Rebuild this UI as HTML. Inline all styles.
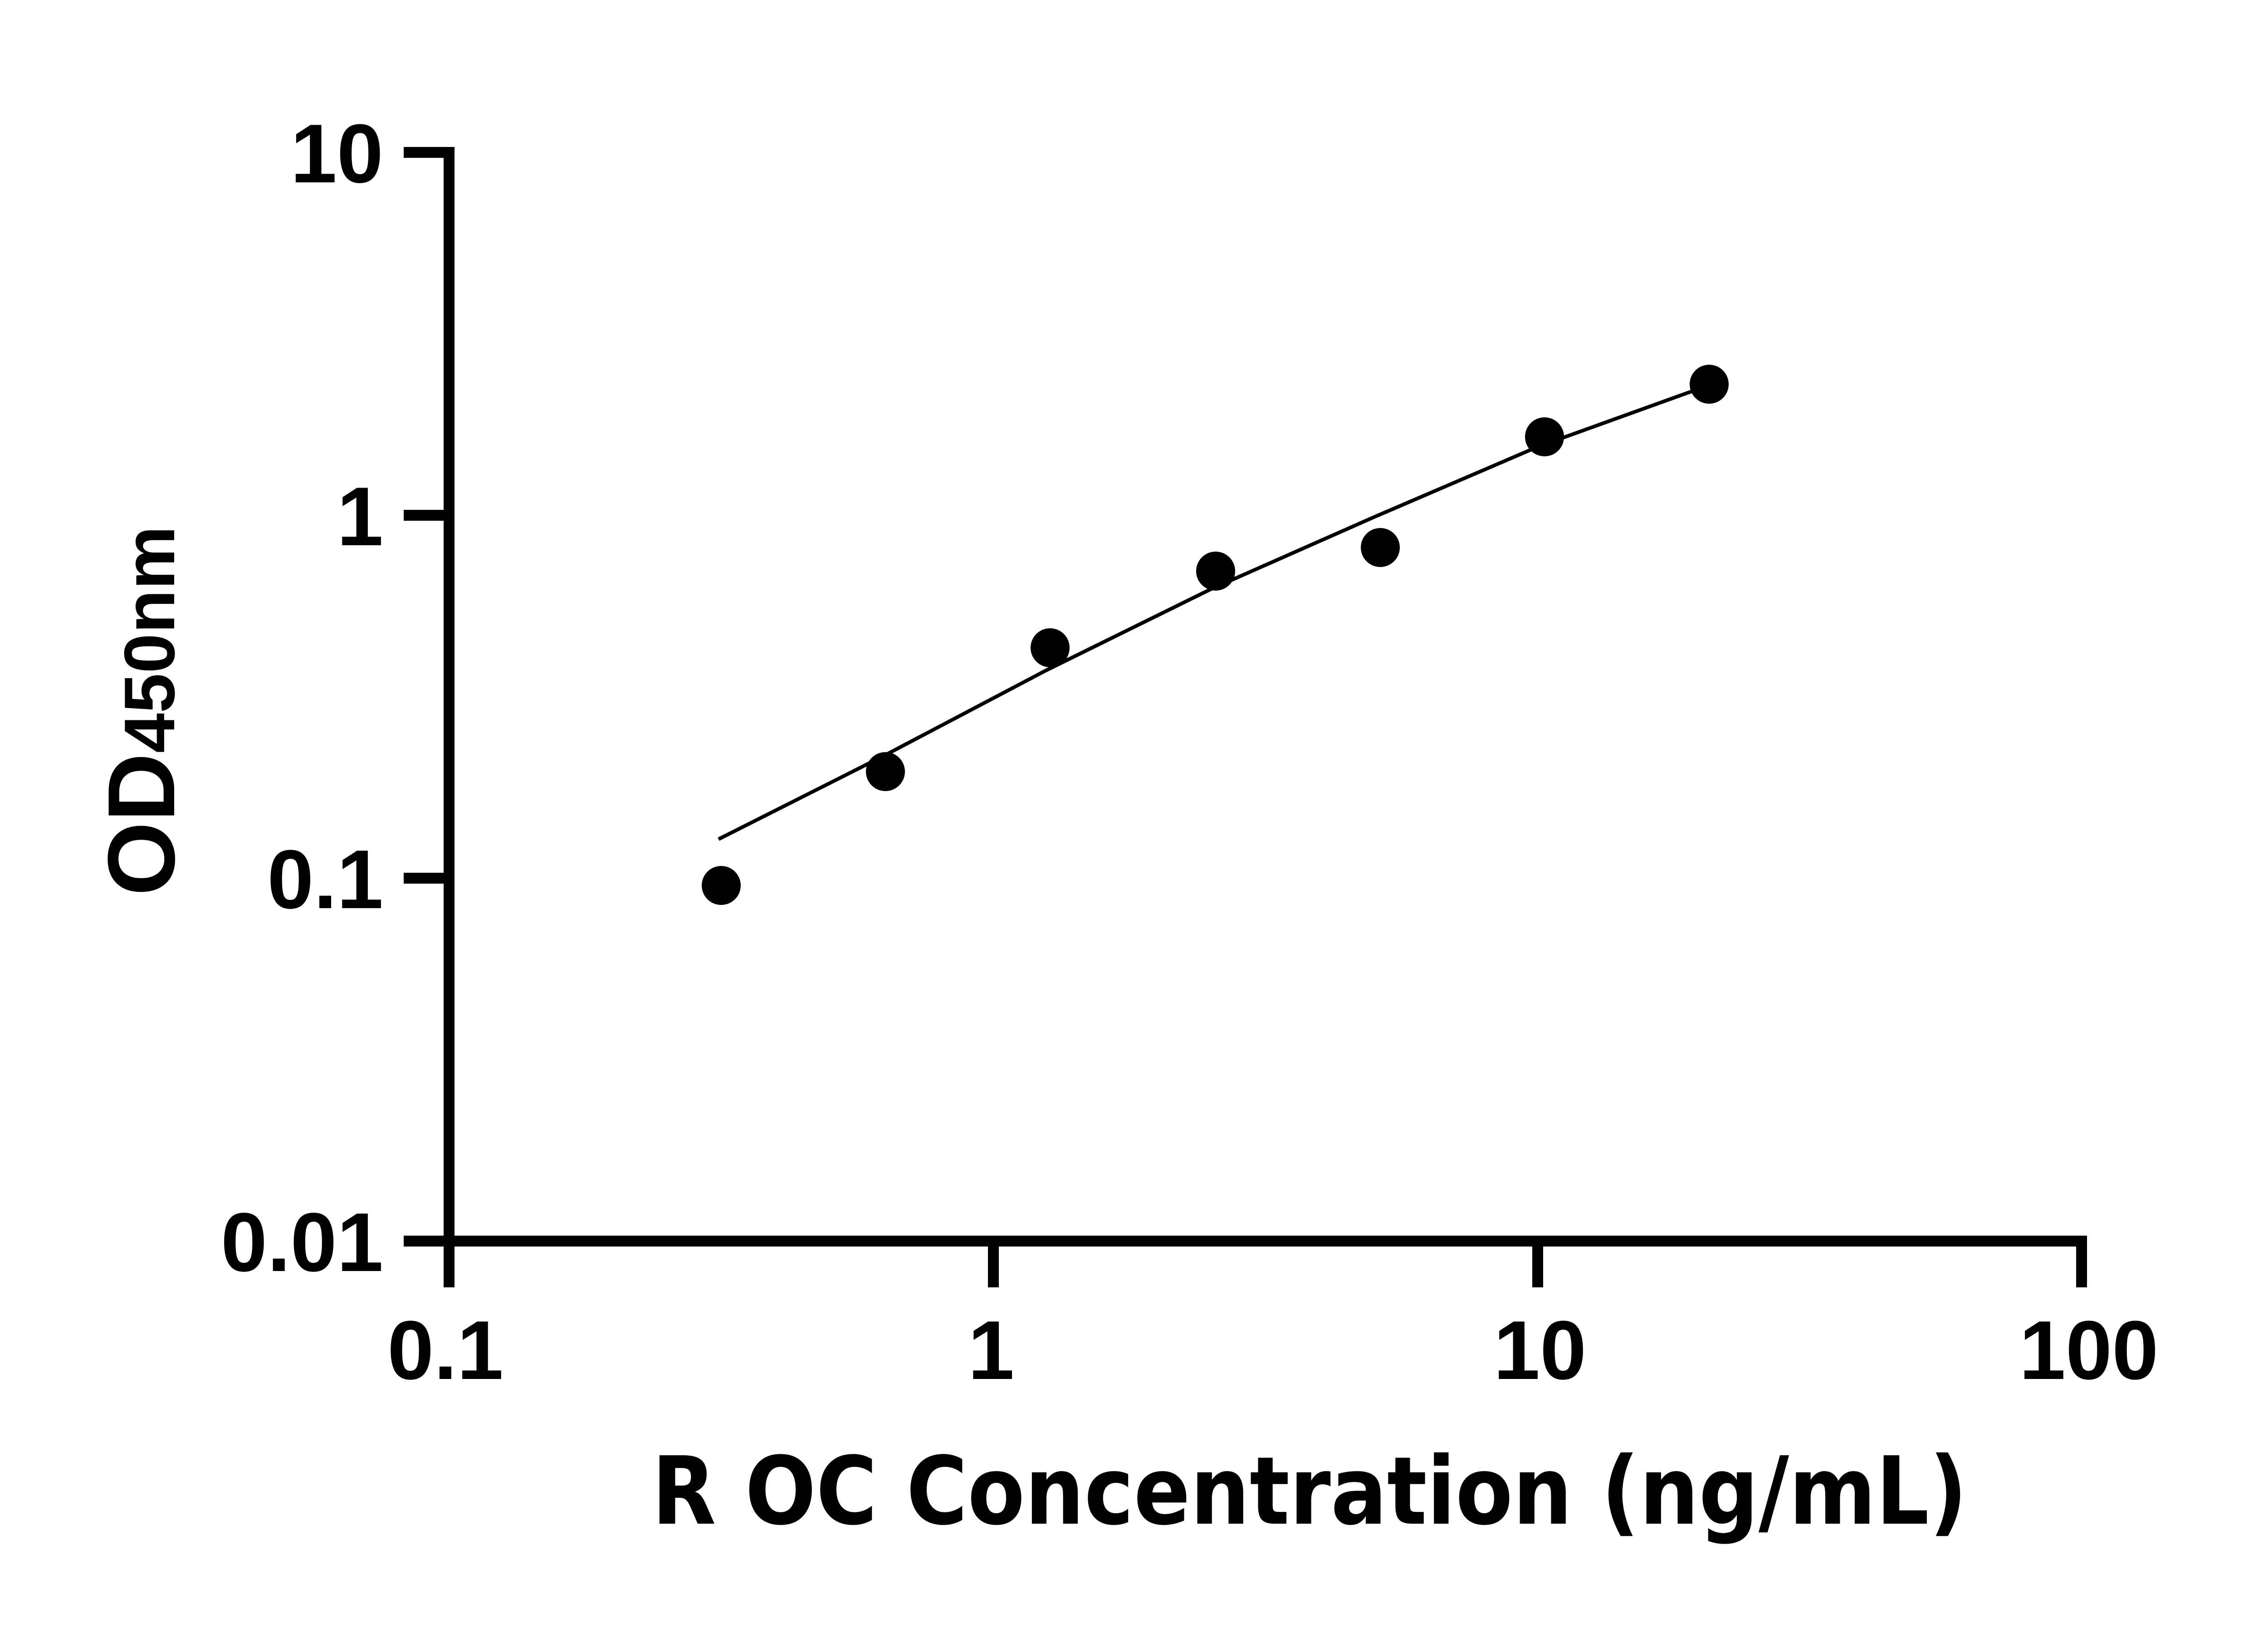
<!DOCTYPE html>
<html><head><style>html,body{margin:0;padding:0;background:#fff}svg{display:block}</style></head>
<body>
<svg width="5142" height="3600" viewBox="0 0 5142 3600" xmlns="http://www.w3.org/2000/svg">
<rect width="5142" height="3600" fill="#fff"/>
<g stroke="#000" stroke-width="24" fill="none" stroke-linecap="butt">
<path d="M990 324 V2748"/>
<path d="M978 2736 H4601"/>
<path d="M890 336 H1002"/>
<path d="M890 1136 H1002"/>
<path d="M890 1936 H1002"/>
<path d="M890 2736 H1002"/>
<path d="M990 2736 V2838"/>
<path d="M2190 2736 V2838"/>
<path d="M3390 2736 V2838"/>
<path d="M4589 2724 V2838"/>
</g>
<g font-family="Liberation Sans, Arial, sans-serif" font-weight="bold" font-size="184" fill="#000">
<text x="845" y="402" text-anchor="end">10</text>
<text x="845" y="1202" text-anchor="end">1</text>
<text x="845" y="2002" text-anchor="end">0.1</text>
<text x="845" y="2802" text-anchor="end">0.01</text>
<text x="982" y="3040" text-anchor="middle">0.1</text>
<text x="2185" y="3040" text-anchor="middle">1</text>
<text x="3395" y="3040" text-anchor="middle">10</text>
<text x="4605" y="3040" text-anchor="middle">100</text>
</g>
<text transform="translate(384,1975) rotate(-90)" font-family="Liberation Sans, Arial, sans-serif" font-weight="bold" fill="#000"><tspan font-size="210">OD</tspan><tspan font-size="158">450nm</tspan></text>
<text x="1437" y="3359" textLength="2900" lengthAdjust="spacingAndGlyphs" font-family="DejaVu Sans, sans-serif" font-weight="bold" font-size="207" fill="#000">R OC Concentration (ng/mL)</text>
<polyline fill="none" stroke="#000" stroke-width="8" points="1584,1850 1945,1668 2306,1478 2667,1300 3029,1140 3390,985 3751,855"/>
<g fill="#000">
<circle cx="1590" cy="1952" r="43"/>
<circle cx="1952" cy="1701" r="43"/>
<circle cx="2315" cy="1428" r="43"/>
<circle cx="2680" cy="1259" r="43"/>
<circle cx="3043" cy="1207" r="43"/>
<circle cx="3405" cy="963" r="43"/>
<circle cx="3768" cy="847" r="43"/>
</g>
</svg>
</body></html>
